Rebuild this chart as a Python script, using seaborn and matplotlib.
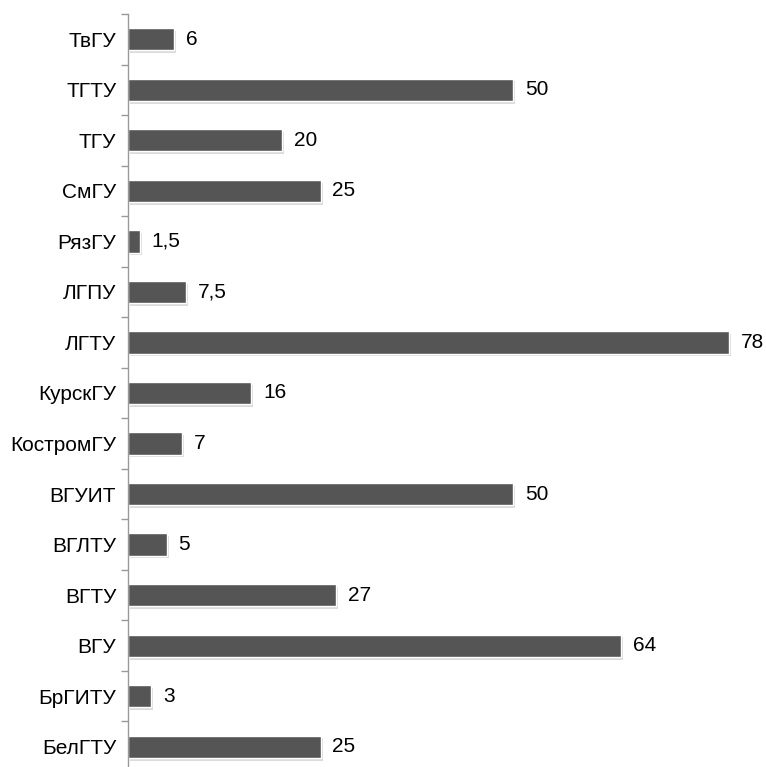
import matplotlib
matplotlib.use("Agg")
import matplotlib.pyplot as plt
import matplotlib.patheffects as pe
import seaborn as sns
import pandas as pd
import numpy as np

universities = ["ТвГУ", "ТГТУ", "ТГУ", "СмГУ", "РязГУ", "ЛГПУ", "ЛГТУ", "КурскГУ",
                "КостромГУ", "ВГУИТ", "ВГЛТУ", "ВГТУ", "ВГУ", "БрГИТУ", "БелГТУ"]
values = [6, 50, 20, 25, 1.5, 7.5, 78, 16, 7, 50, 5, 27, 64, 3, 25]
value_labels = ["6", "50", "20", "25", "1,5", "7,5", "78", "16", "7", "50", "5", "27", "64", "3", "25"]

sns.set_theme(style="white")
plt.rcParams['font.family'] = ['Liberation Sans', 'DejaVu Sans']

df = pd.DataFrame({"univ": universities, "val": values})

fig = plt.figure(figsize=(7.66, 7.67), dpi=100)
ax = fig.add_axes([128/766, (767-772)/767, (766-128)/766, 758/767])

sns.barplot(data=df, y="univ", x="val", order=universities, orient="h",
            color="#555555", saturation=1, width=0.44, ax=ax)
for p in ax.patches:
    p.set_path_effects([pe.SimplePatchShadow(offset=(1.5, -2), shadow_rgbFace="#cccccc", alpha=0.7), pe.Normal()])

ax.bar_label(ax.containers[0], labels=value_labels, padding=8.5, fontsize=15, color="#000000")

ax.set_xlim(0, (766-128)/7.705)
ax.set_ylim(len(universities)-0.5, -0.5)
ax.set_xlabel("")
ax.set_ylabel("")
ax.set_xticks([])
for s in ["top", "right", "bottom"]:
    ax.spines[s].set_visible(False)
ax.spines["left"].set_color("#999999")
ax.spines["left"].set_linewidth(1)
ax.tick_params(axis="y", which="major", length=0, pad=8.5, labelsize=15, labelcolor="#000000")
ax.set_yticks(np.arange(-0.5, len(universities), 1), minor=True)
ax.tick_params(axis="y", which="minor", length=5, width=1, color="#999999", left=True)

fig.savefig("out.png", dpi=100)
